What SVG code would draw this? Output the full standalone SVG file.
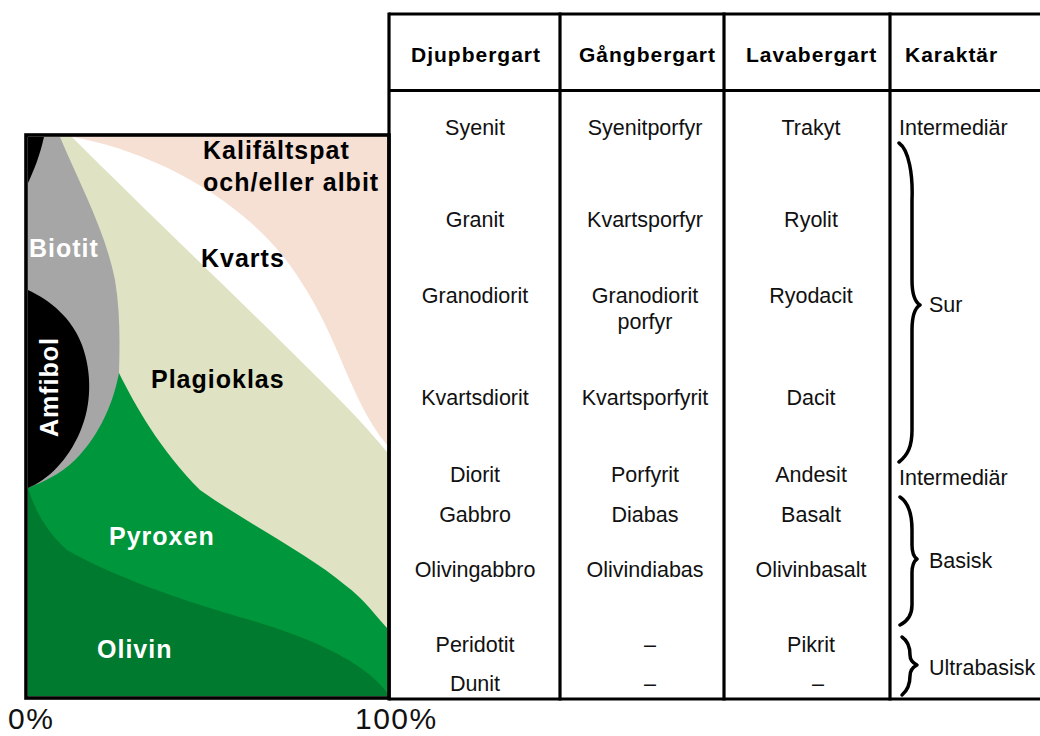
<svg xmlns="http://www.w3.org/2000/svg" width="1040" height="736" viewBox="0 0 1040 736">
<style>
.h{font-family:"Liberation Sans",Arial,sans-serif;font-weight:bold;font-size:21px;letter-spacing:1px;fill:#000}
.b{font-family:"Liberation Sans",Arial,sans-serif;font-size:21.5px;fill:#111;text-anchor:middle}
.k{font-family:"Liberation Sans",Arial,sans-serif;font-size:21.5px;fill:#111}
.m{font-family:"Liberation Sans",Arial,sans-serif;font-weight:bold;font-size:25px;letter-spacing:1px}
.w{fill:#fff}
.d{fill:#000}
.ax{font-family:"Liberation Sans",Arial,sans-serif;font-size:30px;letter-spacing:1.5px;fill:#111}
.ln{stroke:#000;stroke-width:3.2;fill:none}
.br{stroke:#000;stroke-width:3.5;fill:none;stroke-linecap:round;stroke-linejoin:round}
</style>
<rect width="1040" height="736" fill="#fff"/>
<g id="mineral-diagram">
  <rect x="26" y="135" width="363" height="563" fill="#f6dfd3"/>
  <path id="kvarts" d="M72,137 C150,150 250,200 300,280 C340,340 350,400 387,445 L387,696 L28,696 L28,137 Z" fill="#fff"/>
  <path id="plagioklas" d="M72,137 C150,215 250,310 320,380 C345,405 365,425 387,452 L387,696 L28,696 L28,137 Z" fill="#dfe3c3"/>
  <path id="pyroxen" d="M28,373 L119,373 C135,405 160,450 200,490 C250,525 310,555 345,585 C365,600 375,615 387,628 L387,696 L28,696 Z" fill="#00963c"/>
  <path id="olivin" d="M28,488 C35,510 45,530 67,550 C110,575 180,600 250,620 C310,638 345,655 370,675 C378,682 384,688 387,693 L387,696 L28,696 Z" fill="#007a2e"/>
  <path id="biotit" d="M28,137 L60,137 C80,185 105,230 115,280 C120,310 120,340 119,373 C112,410 95,440 75,460 C60,475 40,483 28,488 Z" fill="#a6a6a6"/>
  <path id="amfibol-top" d="M28,137 L44,137 C40,155 34,170 28,183 Z" fill="#000"/>
  <path id="amfibol" d="M28,290 C50,300 72,318 82,345 C92,372 92,405 80,432 C68,460 48,480 28,488 Z" fill="#000"/>
  <rect x="26" y="135" width="363" height="563" fill="none" stroke="#000" stroke-width="3.6"/>
  <text class="m d" x="203" y="159">Kalifältspat</text>
  <text class="m d" x="203" y="191">och/eller albit</text>
  <text class="m w" x="29" y="257">Biotit</text>
  <text class="m d" x="201" y="267">Kvarts</text>
  <text class="m w" transform="translate(58,437) rotate(-90)">Amfibol</text>
  <text class="m d" x="151" y="388">Plagioklas</text>
  <text class="m w" x="109" y="545">Pyroxen</text>
  <text class="m w" x="97" y="658">Olivin</text>
  <text class="ax" x="8" y="729">0%</text>
  <text class="ax" x="355" y="729">100%</text>
</g>
<g id="table-lines">
  <line class="ln" x1="389" y1="14" x2="1040" y2="14"/>
  <line class="ln" x1="389" y1="90.5" x2="1040" y2="90.5"/>
  <line class="ln" x1="389" y1="699" x2="1040" y2="699"/>
  <line class="ln" x1="389" y1="12.5" x2="389" y2="700.5"/>
  <line class="ln" x1="560" y1="12.5" x2="560" y2="700.5"/>
  <line class="ln" x1="724" y1="12.5" x2="724" y2="700.5"/>
  <line class="ln" x1="890" y1="12.5" x2="890" y2="700.5"/>
</g>
<g id="header">
  <text class="h" x="411" y="62">Djupbergart</text>
  <text class="h" x="579" y="62">Gångbergart</text>
  <text class="h" x="746" y="62">Lavabergart</text>
  <text class="h" x="905" y="62">Karaktär</text>
</g>
<g id="col-djupbergart">
  <text class="b" x="475" y="135">Syenit</text>
  <text class="b" x="475" y="227">Granit</text>
  <text class="b" x="475" y="303">Granodiorit</text>
  <text class="b" x="475" y="405">Kvartsdiorit</text>
  <text class="b" x="475" y="482">Diorit</text>
  <text class="b" x="475" y="522">Gabbro</text>
  <text class="b" x="475" y="577">Olivingabbro</text>
  <text class="b" x="475" y="652">Peridotit</text>
  <text class="b" x="475" y="691">Dunit</text>
</g>
<g id="col-gangbergart">
  <text class="b" x="645" y="135">Syenitporfyr</text>
  <text class="b" x="645" y="227">Kvartsporfyr</text>
  <text class="b" x="645" y="303">Granodiorit</text>
  <text class="b" x="645" y="329">porfyr</text>
  <text class="b" x="645" y="405">Kvartsporfyrit</text>
  <text class="b" x="645" y="482">Porfyrit</text>
  <text class="b" x="645" y="522">Diabas</text>
  <text class="b" x="645" y="577">Olivindiabas</text>
  <text class="b" x="650" y="652">–</text>
  <text class="b" x="650" y="691">–</text>
</g>
<g id="col-lavabergart">
  <text class="b" x="811" y="135">Trakyt</text>
  <text class="b" x="811" y="227">Ryolit</text>
  <text class="b" x="811" y="303">Ryodacit</text>
  <text class="b" x="811" y="405">Dacit</text>
  <text class="b" x="811" y="482">Andesit</text>
  <text class="b" x="811" y="522">Basalt</text>
  <text class="b" x="811" y="577">Olivinbasalt</text>
  <text class="b" x="811" y="652">Pikrit</text>
  <text class="b" x="818" y="691">–</text>
</g>
<g id="col-karaktar">
  <text class="k" x="899" y="135">Intermediär</text>
  <path class="br" d="M899,143 C909,150 913,175 912,200 L912,280 C912,295 915,302 920,305 C915,308 912,315 912,330 L912,430 C912,446 908,455 899,462"/>
  <text class="k" x="929" y="312">Sur</text>
  <text class="k" x="899" y="485">Intermediär</text>
  <path class="br" d="M900,497 C909,503 912,515 912,530 L912,545 C912,553 914,557 917,559 C914,561 912,565 912,573 L912,605 C912,615 908,621 900,625"/>
  <text class="k" x="929" y="568">Basisk</text>
  <path class="br" d="M902,637 C908,641 910,648 910,655 C910,660 913,663 917,665 C913,667 910,670 910,676 C910,684 908,690 902,695"/>
  <text class="k" x="929" y="675">Ultrabasisk</text>
</g>
</svg>
